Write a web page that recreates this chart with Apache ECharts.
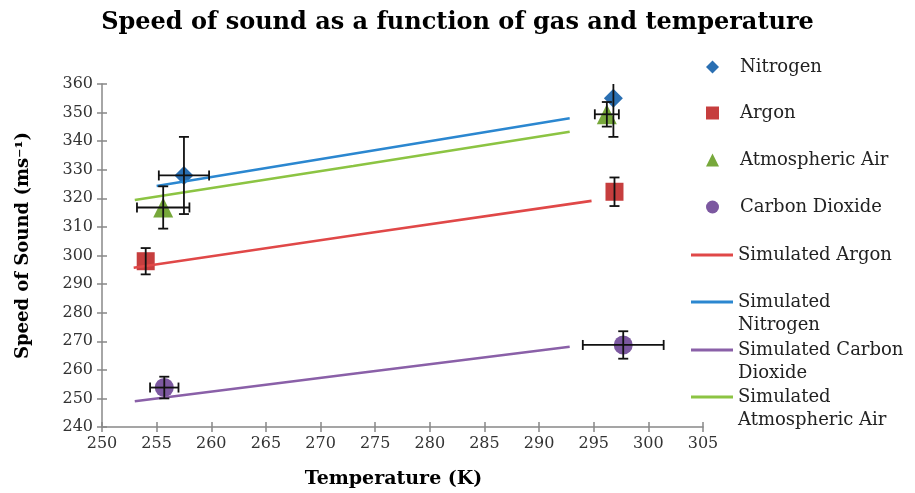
<!DOCTYPE html>
<html>
<head>
<meta charset="utf-8">
<script src="https://cdn.jsdelivr.net/npm/echarts@6/dist/echarts.min.js"></script>
<style>html,body{margin:0;padding:0;background:#fff;}#c{width:915px;height:493px;}</style>
</head>
<body>
<div id="c"></div>
<script>
// ---- Data ----
const xTicks = [250, 305, 5];      // min, max, step (K)
const yTicks = [240, 360, 10];     // min, max, step (m/s)

const nitrogenT = [257.5, 296.8];
const nitrogenV = [328.0, 355.0];
const nitrogenTErr = [2.3, 0];
const nitrogenVErr = [13.5, 13.5];

const argonT = [254.0, 296.9];
const argonV = [298.0, 322.3];
const argonTErr = [0, 0];
const argonVErr = [4.6, 5.0];

const airT = [255.6, 296.2];
const airV = [316.8, 349.4];
const airTErr = [2.4, 1.1];
const airVErr = [7.4, 4.3];

const co2T = [255.7, 297.7];
const co2V = [253.8, 268.7];
const co2TErr = [1.3, 3.7];
const co2VErr = [3.8, 4.8];

const simArgonT = [252.9, 274.0, 294.8];
const simArgonV = [295.7, 307.6, 319.1];
const simNitrogenT = [255.0, 273.0, 292.8];
const simNitrogenV = [324.3, 335.6, 348.0];
const simCO2T = [253.0, 273.0, 292.8];
const simCO2V = [249.0, 258.6, 268.1];
const simAirT = [253.0, 273.0, 292.8];
const simAirV = [319.4, 331.3, 343.3];

// ---- Build chart ----
const FONT = 'DejaVu Serif';
const pts = (xs, ys) => xs.map((x, i) => [x, ys[i]]);
const errs = (xs, ys, ex, ey) => xs.map((x, i) => [x, ys[i], ex[i], ey[i]]);

function renderErr(params, api) {
  const x = api.value(0), y = api.value(1), ex = api.value(2), ey = api.value(3);
  const style = { stroke: '#111', lineWidth: 1.8 };
  const cap = 5;
  const ch = [];
  const line = (a, b) => ch.push({ type: 'line', shape: { x1: a[0], y1: a[1], x2: b[0], y2: b[1] }, style });
  if (ey > 0) {
    const t = api.coord([x, y + ey]), b = api.coord([x, y - ey]);
    line(t, b);
    line([t[0] - cap, t[1]], [t[0] + cap, t[1]]);
    line([b[0] - cap, b[1]], [b[0] + cap, b[1]]);
  }
  if (ex > 0) {
    const l = api.coord([x - ex, y]), r = api.coord([x + ex, y]);
    line(l, r);
    line([l[0], l[1] - cap], [l[0], l[1] + cap]);
    line([r[0], r[1] - cap], [r[0], r[1] + cap]);
  }
  return { type: 'group', children: ch };
}

const colors = {
  n: '#2A6FB2', ar: '#C63E3E', air: '#77A83B', co2: '#7C58A0',
  simAr: '#E04848', simN: '#2B87D0', simCo2: '#8A60A8', simAir: '#8CC443'
};

function scatter(name, data, symbol, size, color) {
  return { name, type: 'scatter', data, symbol, symbolSize: size, z: 2,
    itemStyle: { color, opacity: 1 }, emphasis: { disabled: true } };
}
function simLine(name, data, color) {
  return { name, type: 'line', data, symbol: 'none', showSymbol: false, z: 3,
    lineStyle: { color, width: 2.6 }, itemStyle: { color }, emphasis: { disabled: true } };
}
function errSeries(data) {
  return { type: 'custom', name: 'err', data, renderItem: renderErr, clip: true, z: 4,
    encode: { x: 0, y: 1 }, silent: true };
}

const LH = 23;
const legendText = { fontFamily: FONT, fontSize: 18, color: '#222', lineHeight: LH };
function markerLegend(name, icon, center) {
  return {
    data: [{ name, icon }], left: 706, top: center - LH / 2, itemWidth: 13, itemHeight: 13,
    padding: 0, selectedMode: false,
    textStyle: Object.assign({}, legendText, { padding: [0, 0, 0, 16] })
  };
}
function lineLegend(name, center, label, wrapped) {
  return {
    data: [{ name, icon: 'rect' }], left: 691, top: center - (wrapped ? 1.5 : 0.5) * LH,
    itemWidth: 42, itemHeight: 3, padding: 0, selectedMode: false,
    formatter: () => (wrapped ? '\n' + label : label),
    textStyle: legendText
  };
}

const option = {
  animation: false,
  backgroundColor: '#fff',
  title: {
    text: 'Speed of sound as a function of gas and temperature',
    left: 'center', top: 6,
    textStyle: { fontFamily: FONT, fontWeight: 'bold', fontSize: 24, color: '#000' }
  },
  legend: [
    markerLegend('Nitrogen', 'diamond', 67),
    markerLegend('Argon', 'rect', 113),
    markerLegend('Atmospheric Air', 'triangle', 160),
    markerLegend('Carbon Dioxide', 'circle', 207),
    lineLegend('Simulated Argon', 255, 'Simulated Argon', false),
    lineLegend('Simulated Nitrogen', 302, 'Simulated\nNitrogen', true),
    lineLegend('Simulated Carbon Dioxide', 350, 'Simulated Carbon\nDioxide', true),
    lineLegend('Simulated Atmospheric Air', 397, 'Simulated\nAtmospheric Air', true)
  ],
  grid: { left: 102, right: 212, top: 84, bottom: 66, containLabel: false, outerBoundsMode: 'none' },
  xAxis: [{
    type: 'value', min: xTicks[0], max: xTicks[1], interval: xTicks[2], position: 'bottom',
    name: 'Temperature (K)', nameLocation: 'middle', nameGap: 43,
    nameTextStyle: { fontFamily: FONT, fontWeight: 'bold', fontSize: 19, color: '#000', padding: [0, 18, 0, 0] },
    axisLine: { show: true, lineStyle: { color: '#888', width: 1.5 } },
    axisTick: { show: true, length: 5, lineStyle: { color: '#888', width: 1.5 } },
    axisLabel: { fontFamily: FONT, fontSize: 16, color: '#333', margin: 9 },
    splitLine: { show: false }
  }, {
    type: 'value', min: xTicks[0], max: xTicks[1], interval: xTicks[2], position: 'bottom',
    axisLine: { show: false }, axisLabel: { show: false }, splitLine: { show: false },
    axisTick: { show: true, inside: true, length: 5, lineStyle: { color: '#888', width: 1.5 } }
  }],
  yAxis: [{
    type: 'value', min: yTicks[0], max: yTicks[1], interval: yTicks[2], position: 'left',
    name: 'Speed of Sound (ms⁻¹)', nameLocation: 'middle', nameGap: 70, nameRotate: 90,
    nameTextStyle: { fontFamily: FONT, fontWeight: 'bold', fontSize: 18, color: '#000', padding: [0, 0, 0, 20] },
    axisLine: { show: true, lineStyle: { color: '#888', width: 1.5 } },
    axisTick: { show: true, length: 5, lineStyle: { color: '#888', width: 1.5 } },
    axisLabel: { fontFamily: FONT, fontSize: 16, color: '#333', margin: 9 },
    splitLine: { show: false }
  }, {
    type: 'value', min: yTicks[0], max: yTicks[1], interval: yTicks[2], position: 'left',
    axisLine: { show: false }, axisLabel: { show: false }, splitLine: { show: false },
    axisTick: { show: true, inside: true, length: 5, lineStyle: { color: '#888', width: 1.5 } }
  }],
  series: [
    scatter('Nitrogen', pts(nitrogenT, nitrogenV), 'diamond', 19, colors.n),
    scatter('Argon', pts(argonT, argonV), 'rect', 18, colors.ar),
    scatter('Atmospheric Air', pts(airT, airV), 'triangle', 20, colors.air),
    scatter('Carbon Dioxide', pts(co2T, co2V), 'circle', 19, colors.co2),
    simLine('Simulated Argon', pts(simArgonT, simArgonV), colors.simAr),
    simLine('Simulated Nitrogen', pts(simNitrogenT, simNitrogenV), colors.simN),
    simLine('Simulated Carbon Dioxide', pts(simCO2T, simCO2V), colors.simCo2),
    simLine('Simulated Atmospheric Air', pts(simAirT, simAirV), colors.simAir),
    errSeries(errs(nitrogenT, nitrogenV, nitrogenTErr, nitrogenVErr)),
    errSeries(errs(argonT, argonV, argonTErr, argonVErr)),
    errSeries(errs(airT, airV, airTErr, airVErr)),
    errSeries(errs(co2T, co2V, co2TErr, co2VErr))
  ]
};

const chart = echarts.init(document.getElementById('c'), null, { renderer: 'canvas' });
chart.setOption(option);
</script>
</body>
</html>
